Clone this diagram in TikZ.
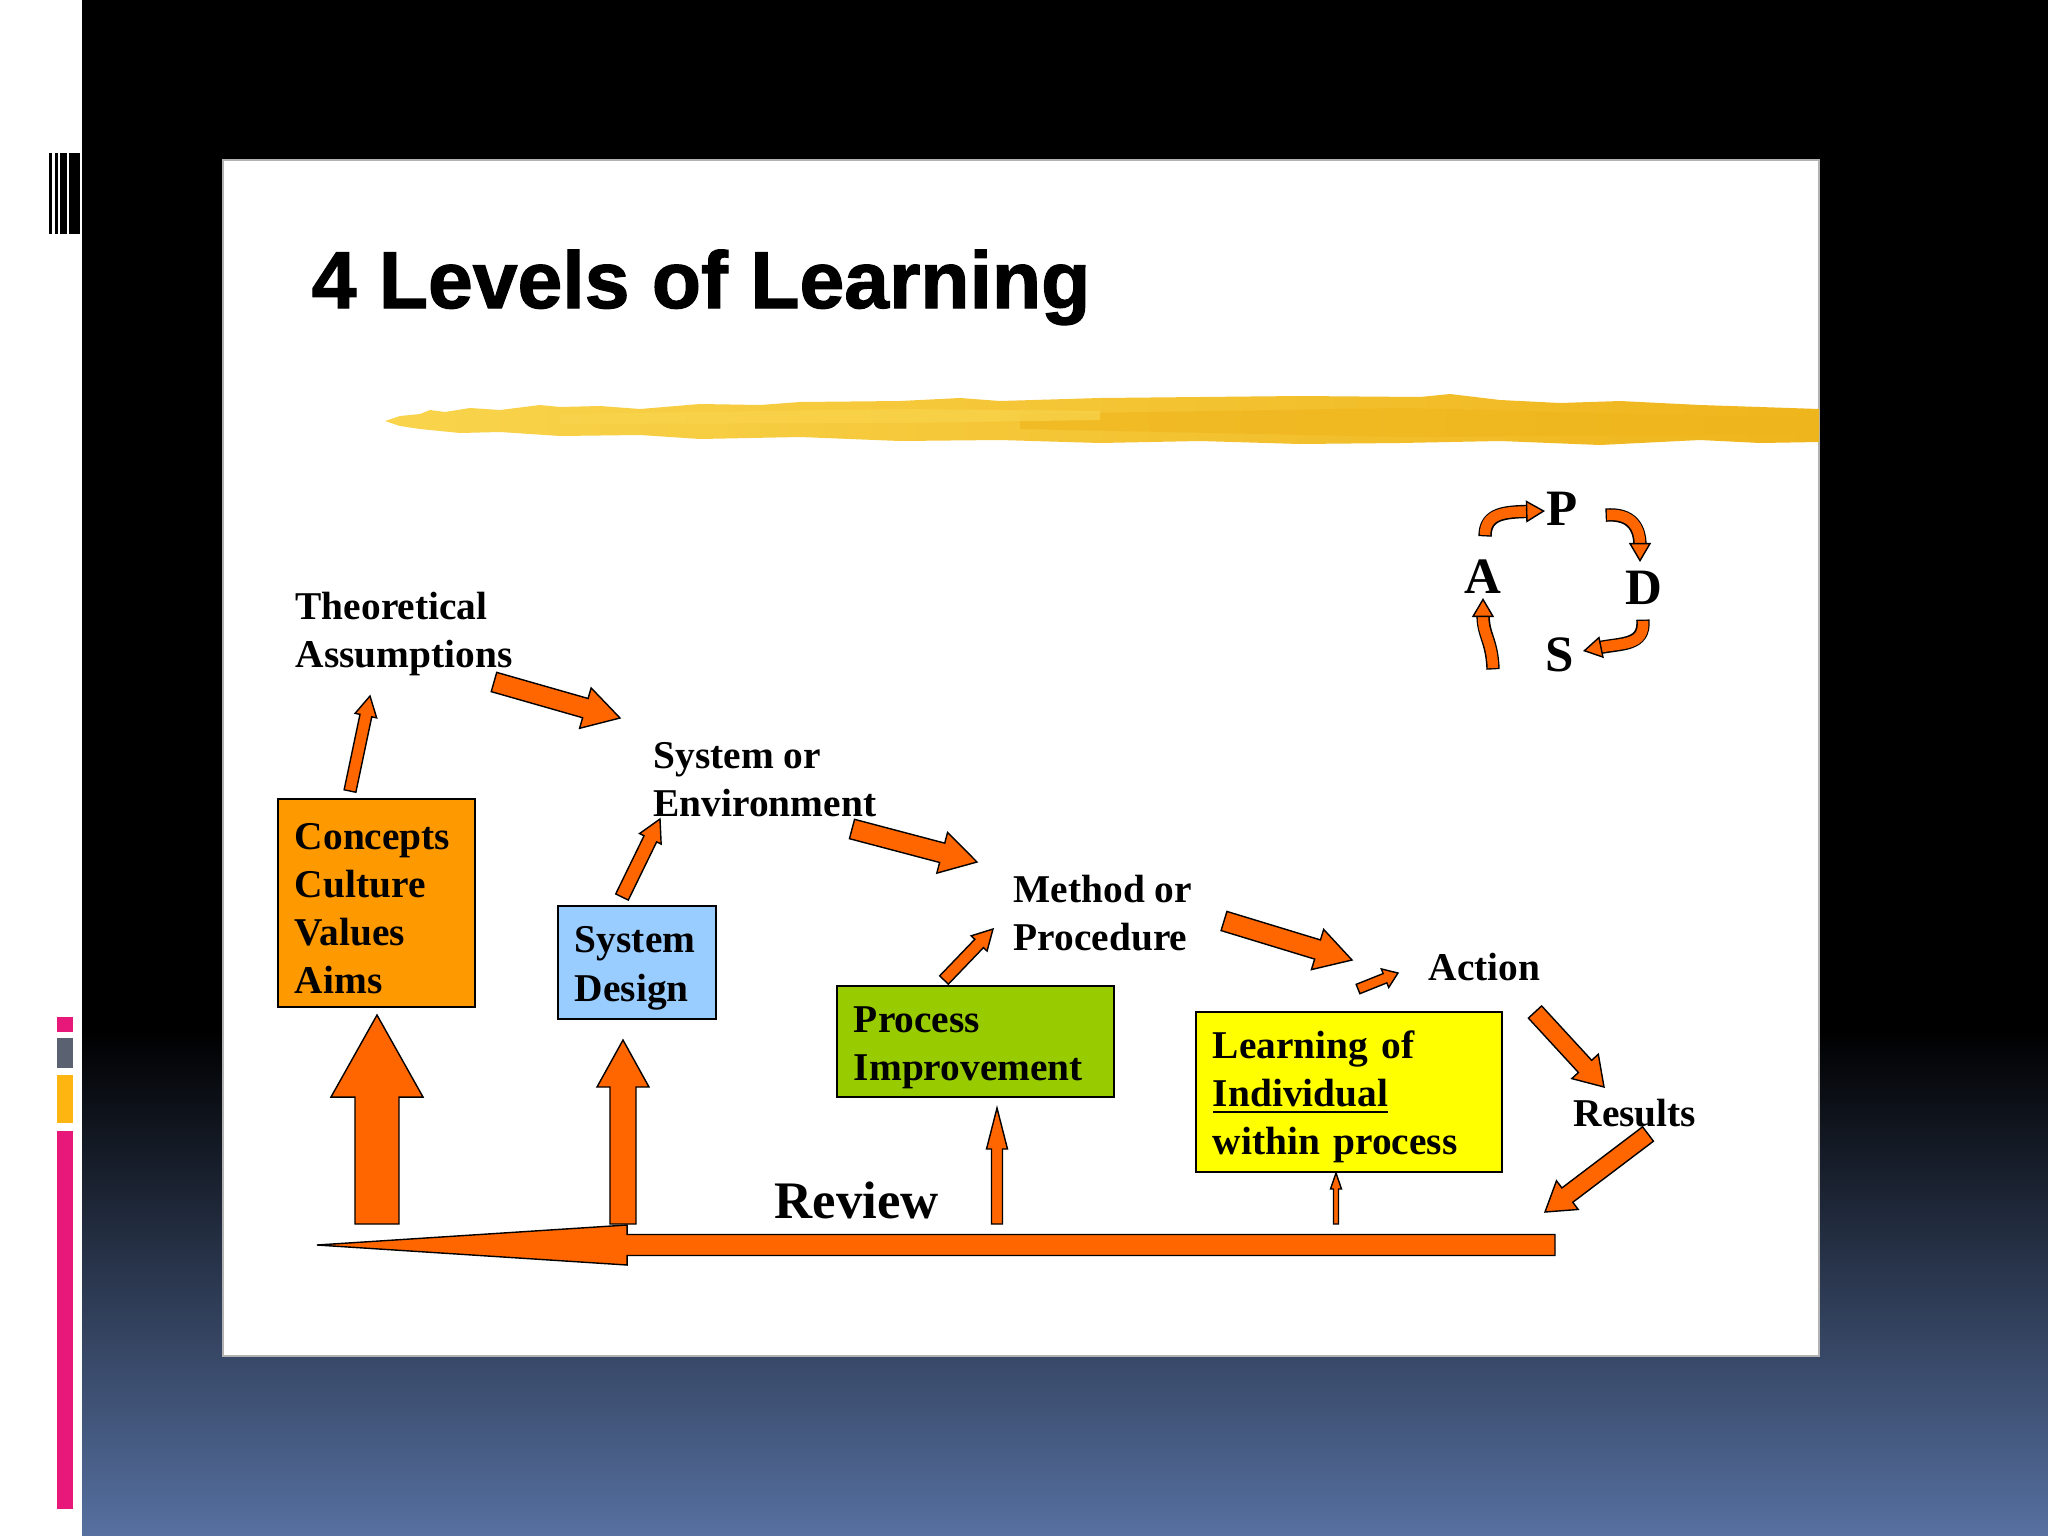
\documentclass[tikz,border=0pt]{standalone}
\usepackage{fontspec}
\setmainfont{Liberation Serif}
\newfontfamily\titlefont{Liberation Sans}[BoldFeatures={FakeBold=1.5}]
\usetikzlibrary{calc,arrows.meta}

\definecolor{arroworange}{HTML}{FF6600}
\definecolor{conceptorange}{HTML}{FF9900}
\definecolor{designblue}{HTML}{99CCFF}
\definecolor{processgreen}{HTML}{99CC00}
\definecolor{learnyellow}{HTML}{FFFF00}
\definecolor{strokelight}{HTML}{F9D44C}
\definecolor{strokedeep}{HTML}{EFB51C}
\definecolor{barpink}{HTML}{E8177A}
\definecolor{bargray}{HTML}{5A6272}
\definecolor{bargold}{HTML}{FFB511}
\definecolor{bottomblue}{HTML}{5670A0}

% block arrow: start, tip, shaft half width, head half width, head length
\newcommand{\blockarrow}[5]{%
  \coordinate (ba-h) at ($(#2)!#5!(#1)$);
  \filldraw[arrowfill] ($(#1)!#3!90:(#2)$) -- ($(ba-h)!#3!-90:(#1)$) -- ($(ba-h)!#4!-90:(#1)$) -- (#2)
    -- ($(ba-h)!#4!90:(#1)$) -- ($(ba-h)!#3!90:(#1)$) -- ($(#1)!#3!-90:(#2)$) -- cycle;}

\begin{document}
\begin{tikzpicture}[x=0.01cm, y=-0.01cm,
    plaintext/.style={align=left, anchor=west, inner sep=0pt, font=\fontsize{11.2}{13.7}\selectfont\bfseries},
    levelbox/.style={draw=black, line width=0.5pt, align=left, inner xsep=0.17cm, inner ysep=0pt,
      font=\fontsize{11.2}{13.7}\selectfont\bfseries, execute at begin node={\rule{0pt}{10.7pt}}},
    pdsaletter/.style={inner sep=0pt, font=\fontsize{14.5}{16}\selectfont\bfseries},
    arrowfill/.style={fill=arroworange, draw=black, line width=0.4pt},
    bentarrow/.style={draw=arroworange, line width=3pt,
      -{Triangle[width=0.22cm, length=0.19cm, fill=arroworange, color=black, line width=0.4pt]},
      preaction={draw=black, line width=3.8pt, shorten >=0.16cm, shorten <=-0.4pt, -}}]

  \useasboundingbox (0,0) rectangle (2048,1536);

  % background
  \fill[white] (0,0) rectangle (2048,1536);
  \fill[black] (82,0) rectangle (2048,1030);
  \shade[top color=black, bottom color=bottomblue] (82,1030) rectangle (2048,1536);
  \foreach \xa/\xb in {49/52, 55/58, 60/67, 69/80}
    \fill[black] (\xa,153) rectangle (\xb,234);
  \fill[barpink] (57,1017) rectangle (73,1032);
  \fill[bargray] (57,1038) rectangle (73,1068);
  \fill[bargold] (57,1075) rectangle (73,1123);
  \fill[barpink] (57,1131) rectangle (73,1509);

  % slide
  \filldraw[fill=white, draw=gray!60, line width=0.4pt] (223,160) rectangle (1819,1356);
  \node[anchor=base west, inner sep=0pt, font=\titlefont\bfseries\fontsize{22.9}{26}\selectfont] (title) at (311,308) {4 Levels of Learning};
  \shade[left color=strokelight, right color=strokedeep] (385,421) -- (400,416) -- (420,414) -- (430,410) -- (445,412)
    -- (470,408) -- (500,410) -- (540,405) -- (560,407) -- (600,406) -- (640,409) -- (700,404) -- (760,405)
    -- (800,402) -- (900,401) -- (960,398) -- (1000,401) -- (1100,398) -- (1200,397) -- (1300,396) -- (1420,397)
    -- (1450,394) -- (1500,400) -- (1560,403) -- (1620,401) -- (1700,405) -- (1760,407) -- (1819,409)
    -- (1819,442) -- (1760,443) -- (1700,440) -- (1600,445) -- (1500,441) -- (1400,443) -- (1300,444)
    -- (1200,441) -- (1100,443) -- (1000,440) -- (900,441) -- (800,437) -- (700,439) -- (640,435)
    -- (560,436) -- (500,432) -- (460,433) -- (420,429) -- (400,426) -- cycle;
  \fill[strokedeep, opacity=0.6] (1020,414) -- (1400,408) -- (1819,418) -- (1819,434) -- (1400,437) -- (1020,429) -- cycle;
  \fill[strokelight, opacity=0.7] (560,414) -- (900,409) -- (1100,411) -- (1100,420) -- (900,423) -- (560,424) -- cycle;

  % stages
  \node[plaintext] (theory) at (295,634) {Theoretical\\Assumptions};
  \node[plaintext] (system) at (653,780) {System or\\Environment};
  \node[plaintext] (method) at (1013,913) {Method or\\Procedure};
  \node[plaintext] (action) at (1428,967) {Action};
  \node[plaintext] (results) at (1573,1113) {Results};
  \node[plaintext, font=\fontsize{15}{18}\selectfont\bfseries] (review) at (774,1200) {Review};

  % levels
  \node[levelbox, fill=conceptorange, text width=1.63cm, minimum height=2.08cm] (concepts) at (376.5,903) {Concepts\\Culture\\Values\\Aims};
  \node[levelbox, fill=designblue, text width=1.24cm, minimum height=1.13cm] (design) at (637,962.5) {System\\Design};
  \node[levelbox, fill=processgreen, text width=2.43cm, minimum height=1.11cm] (process) at (975.5,1041.5) {Process\\Improvement};
  \node[levelbox, fill=learnyellow, text width=2.72cm, minimum height=1.60cm] (learning) at (1349,1092) {Learning of\\\underline{Individual}\\within process};

  % arrow ends
  \coordinate (ct1) at (350,791);   \coordinate (ct2) at (370,696);
  \coordinate (ts1) at (494,682);   \coordinate (ts2) at (620,718);
  \coordinate (sm1) at (852,829);   \coordinate (sm2) at (977,862);
  \coordinate (ma1) at (1224,921);  \coordinate (ma2) at (1352,960);
  \coordinate (la1) at (1358,989);  \coordinate (la2) at (1398,973);
  \coordinate (ar1) at (1535,1012); \coordinate (ar2) at (1604,1087);
  \coordinate (rb1) at (1648,1134); \coordinate (rb2) at (1545,1212);
  \coordinate (ds1) at (622,897);   \coordinate (ds2) at (660,819);
  \coordinate (pm1) at (944,980);   \coordinate (pm2) at (993,929);
  \coordinate (barR) at (1555,1245); \coordinate (barL) at (317,1245);
  \coordinate (rc1) at (377,1224);  \coordinate (rc2) at (377,1015);
  \coordinate (rd1) at (623,1224);  \coordinate (rd2) at (623,1040);
  \coordinate (rp1) at (997,1224);  \coordinate (rp2) at (997,1108);
  \coordinate (rl1) at (1336,1224); \coordinate (rl2) at (1336,1173);

  \blockarrow{barR}{barL}{0.105cm}{0.2cm}{3.1cm}
  \blockarrow{rc1}{rc2}{0.22cm}{0.46cm}{0.82cm}
  \blockarrow{rd1}{rd2}{0.13cm}{0.26cm}{0.47cm}
  \blockarrow{rp1}{rp2}{0.055cm}{0.105cm}{0.41cm}
  \blockarrow{rl1}{rl2}{0.025cm}{0.055cm}{0.16cm}
  \blockarrow{ct1}{ct2}{0.06cm}{0.11cm}{0.2cm}
  \blockarrow{ts1}{ts2}{0.1cm}{0.21cm}{0.36cm}
  \blockarrow{sm1}{sm2}{0.1cm}{0.21cm}{0.36cm}
  \blockarrow{ma1}{ma2}{0.1cm}{0.21cm}{0.36cm}
  \blockarrow{la1}{la2}{0.05cm}{0.1cm}{0.14cm}
  \blockarrow{ar1}{ar2}{0.09cm}{0.18cm}{0.28cm}
  \blockarrow{rb1}{rb2}{0.09cm}{0.18cm}{0.28cm}
  \blockarrow{ds1}{ds2}{0.07cm}{0.12cm}{0.22cm}
  \blockarrow{pm1}{pm2}{0.06cm}{0.11cm}{0.2cm}

  % PDSA cycle
  \node[pdsaletter] (P) at (1562,509) {P};
  \node[pdsaletter] (D) at (1644,588) {D};
  \node[pdsaletter] (S) at (1560,655) {S};
  \node[pdsaletter] (A) at (1483,577) {A};
  \coordinate (ap1) at (1485,535); \coordinate (ap2) at (1545,511);
  \coordinate (pd1) at (1607,515); \coordinate (pd2) at (1640,562);
  \coordinate (ds3) at (1643,621); \coordinate (ds4) at (1583,651);
  \coordinate (sa1) at (1493,668); \coordinate (sa2) at (1483,598);
  \draw[bentarrow] (ap1) .. controls (1485,513) and (1505,512) .. (ap2);
  \draw[bentarrow] (pd1) .. controls (1632,513) and (1640,528) .. (pd2);
  \draw[bentarrow] (ds3) .. controls (1645,646) and (1622,643) .. (ds4);
  \draw[bentarrow] (sa1) .. controls (1492,640) and (1483,636) .. (sa2);
\end{tikzpicture}
\end{document}
